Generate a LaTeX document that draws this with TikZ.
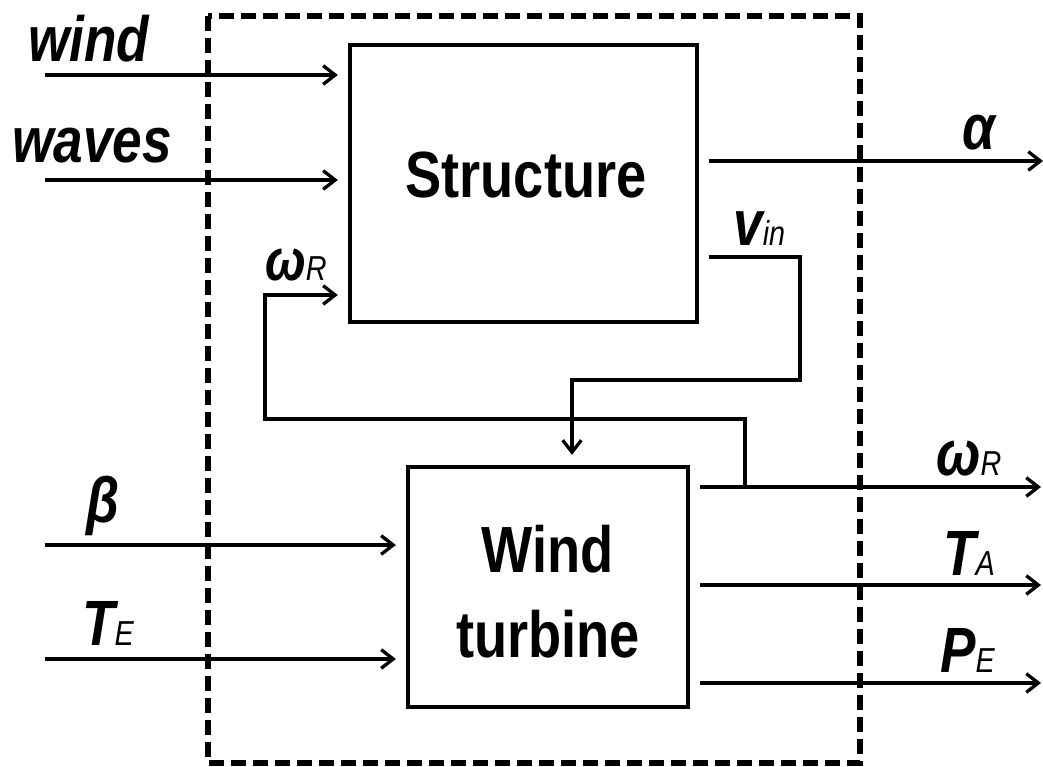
\documentclass[tikz,border=0pt]{standalone}
\usepackage{fontspec}
\setmainfont{Liberation Sans}[FakeStretch=0.83]
\usetikzlibrary{arrows.meta}
\tikzset{
  conn/.style={line width=2.5pt, line join=miter},
  arr/.style={conn, -{Straight Barb[length=9pt,width=14pt,line width=2.5pt]}},
  blockbox/.style={draw, line width=3.2pt, inner sep=0pt},
  lab/.style={inner sep=0pt, font=\fontsize{48}{56}\selectfont\bfseries\itshape},
  boxtext/.style={inner sep=0pt, font=\fontsize{49}{64}\selectfont\bfseries},
}
\newcommand{\sbs}[1]{{\fontsize{26}{28}\selectfont\mdseries\itshape #1}}
\begin{document}
\begin{tikzpicture}[x=0.75pt,y=-0.75pt]
\useasboundingbox (0,0) rectangle (1043,767);
% dashed system border
\draw[line width=4.2pt, dash pattern=on 11pt off 5.5pt] (208,16) rectangle (860,763);
% blocks
\node[blockbox, minimum width=347*0.75pt, minimum height=277*0.75pt] (struct) at (523.5,183.5) {};
\node[blockbox, minimum width=280*0.75pt, minimum height=240*0.75pt] (wt) at (548,587) {};
\node[boxtext, anchor=base] (structtxt) at (526,197) {Structure};
\node[boxtext, anchor=base] (wttxt1) at (548,572) {Wind};
\node[boxtext, anchor=base] (wttxt2) at (548,657) {turbine};
% labels
\node[lab, anchor=base west] (lwind) at (28,62) {wind};
\node[lab, anchor=base west] (lwaves) at (12,162) {waves};
\node[lab, anchor=base west, font=\fontsize{44}{50}\selectfont\bfseries\itshape] (lwr) at (265,280) {ω\sbs{R}};
\node[lab, anchor=base west] (lvin) at (733,245) {v\sbs{in}};
\node[lab, anchor=base west] (lalpha) at (962,150) {α};
\node[lab, anchor=base west] (lbeta) at (86,522) {β};
\node[lab, anchor=base west] (lte) at (82,645) {T\sbs{E}};
\node[lab, anchor=base west] (lwr2) at (936,475) {ω\sbs{R}};
\node[lab, anchor=base west] (lta) at (943,575) {T\sbs{A}};
\node[lab, anchor=base west] (lpe) at (940,672) {P\sbs{E}};
% free ends
\coordinate (inwind) at (45,75);
\coordinate (inwaves) at (45,180);
\coordinate (inbeta) at (45,545);
\coordinate (inte) at (45,659);
\coordinate (outalpha) at (1043,161);
\coordinate (outwr) at (1041,487);
\coordinate (outta) at (1041,585);
\coordinate (outpe) at (1041,683);
\coordinate (vinA) at (800,257);
\coordinate (vinB) at (800,380);
\coordinate (vinC) at (572,380);
\coordinate (fbA) at (745,487);
\coordinate (fbB) at (745,419);
\coordinate (fbC) at (265,419);
\coordinate (fbD) at (265,295);
% inputs
\draw[arr, shorten >=7.5pt] (inwind) -- (inwind -| struct.west);
\draw[arr, shorten >=7.5pt] (inwaves) -- (inwaves -| struct.west);
\draw[arr, shorten >=7.5pt] (inbeta) -- (inbeta -| wt.west);
\draw[arr, shorten >=7.5pt] (inte) -- (inte -| wt.west);
% outputs
\draw[arr, shorten <=7.5pt] (outalpha -| struct.east) -- (outalpha);
\draw[arr, shorten <=7.5pt] (outwr -| wt.east) -- (outwr);
\draw[arr, shorten <=7.5pt] (outta -| wt.east) -- (outta);
\draw[arr, shorten <=7.5pt] (outpe -| wt.east) -- (outpe);
% v_in path
\draw[arr, shorten <=7.5pt, shorten >=7.5pt] (vinA -| struct.east) -- (vinA) -- (vinB) -- (vinC) -- (vinC |- wt.north);
% omega_R feedback
\draw[arr, shorten >=7.5pt] (fbA) -- (fbB) -- (fbC) -- (fbD) -- (fbD -| struct.west);
\end{tikzpicture}
\end{document}
